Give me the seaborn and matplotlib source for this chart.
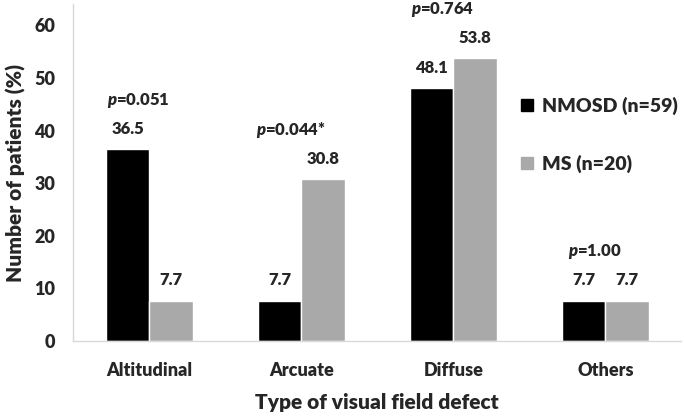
import numpy as np
import pandas as pd
import seaborn as sns
import matplotlib.pyplot as plt
from matplotlib.lines import Line2D
from matplotlib.ticker import FixedLocator

categories = ["Altitudinal", "Arcuate", "Diffuse", "Others"]
groups = ["NMOSD (n=59)", "MS (n=20)"]
nmosd = [36.5, 7.7, 48.1, 7.7]
ms = [7.7, 30.8, 53.8, 7.7]
pvals = ["0.051", "0.044*", "0.764", "1.00"]

df = pd.DataFrame({
    "Type": categories * 2,
    "Group": [groups[0]] * 4 + [groups[1]] * 4,
    "Pct": nmosd + ms,
})

sns.set_style("white")
plt.rcParams["font.family"] = ["Lato", "DejaVu Sans"]
plt.rcParams["font.weight"] = "heavy"
plt.rcParams["mathtext.fontset"] = "custom"
plt.rcParams["mathtext.it"] = "Lato:italic:heavy"
plt.rcParams["mathtext.rm"] = "Lato:heavy"
W = "heavy"

colors = ["#000000", "#a9a9a9"]
fig = plt.figure(figsize=(6.84, 4.18), dpi=100)
ax = fig.add_axes([0.107, 0.184, 0.889, 0.806])

sns.barplot(data=df, x="Type", y="Pct", hue="Group", palette=colors,
            width=0.57, edgecolor="white", linewidth=1, legend=False, ax=ax)

ax.set_ylim(0, 64)
ax.set_xlim(-0.5, 3.5)
ax.set_yticks(range(0, 61, 10))
ax.tick_params(axis="both", length=0, labelsize=13)
ax.tick_params(axis="y", pad=13)
ax.tick_params(axis="x", pad=15)
ax.xaxis.set_minor_locator(FixedLocator([-0.5, 0.5, 1.5, 2.5, 3.5]))
ax.tick_params(axis="x", which="minor", length=6, color="#d9d9d9", width=1)
for lab in ax.get_xticklabels() + ax.get_yticklabels():
    lab.set_fontweight(W)

for s in ["top", "right"]:
    ax.spines[s].set_visible(False)
for s in ["left", "bottom"]:
    ax.spines[s].set_color("#d9d9d9")
    ax.spines[s].set_linewidth(1)

ax.set_xlabel("Type of visual field defect", fontsize=15, fontweight=W, labelpad=10)
ax.set_ylabel("Number of patients (%)", fontsize=15, fontweight=W, labelpad=6)

# value labels
for cont in ax.containers:
    for bar in cont:
        h = bar.get_height()
        ax.annotate(f"{h:.1f}", (bar.get_x() + bar.get_width() / 2, h),
                    xytext=(0, 14.5), textcoords="offset points",
                    ha="center", va="center", fontsize=12, fontweight=W)

# p-values
for i, p in enumerate(pvals):
    top = max(nmosd[i], ms[i])
    ax.annotate(f"$p$={p}", (i - 0.07, top), xytext=(0, 35),
                textcoords="offset points", ha="center", va="center",
                fontsize=12, fontweight=W)

handles = [Line2D([], [], marker="s", linestyle="none", markersize=8.5,
                  markerfacecolor=c, markeredgecolor=c) for c in colors]
ax.legend(handles, groups, loc="upper left", bbox_to_anchor=(0.72, 0.755),
          frameon=False, fontsize=14, labelspacing=2.05, handlelength=0.6,
          handletextpad=0.5, borderpad=0)

fig.savefig("out.png", dpi=100)
